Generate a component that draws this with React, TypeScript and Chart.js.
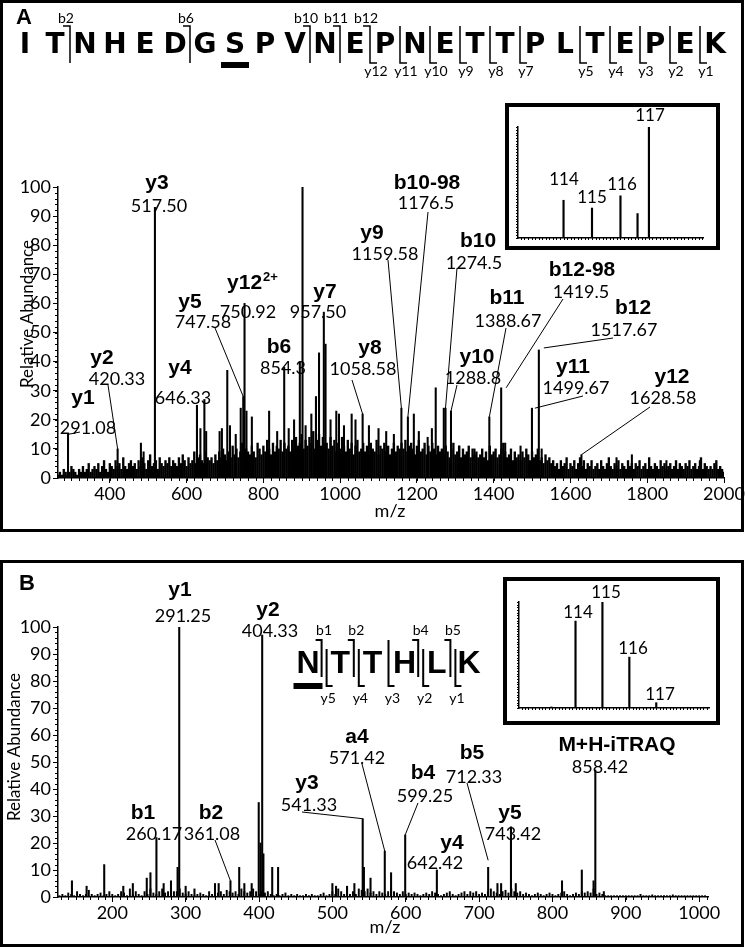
import { useEffect, useRef } from 'react';
import { Chart, registerables } from 'chart.js';

Chart.register(...registerables);

const PAGE_W = 745;
const PAGE_H = 947;

// ---------------- Panel A data ----------------
const xTicksA = [400, 600, 800, 1000, 1200, 1400, 1600, 1800, 2000];
const yTicks = [0, 10, 20, 30, 40, 50, 60, 70, 80, 90, 100];

const peaksA: [number, number][] = [
  [291.08, 15], [420.33, 10], [481, 12], [488, 9], [517.5, 93], [627, 25], [636, 17],
  [646.33, 27], [651, 16], [686, 16], [692, 17], [706, 37], [713, 18], [728, 15],
  [741, 24], [747.58, 28], [750.92, 60], [756, 23], [770, 21], [815, 23], [836, 16],
  [854.3, 38], [866, 17], [880, 20], [895, 40], [902, 100], [910, 18], [925, 22],
  [937, 28], [945, 43], [957.5, 57], [962, 46], [975, 20], [990, 23], [997, 22],
  [1010, 18], [1030, 22], [1040, 20], [1058.58, 22], [1075, 18], [1100, 17], [1120, 16],
  [1140, 15], [1159.58, 24], [1176.5, 21], [1192, 22], [1205, 16], [1228, 14], [1239, 17],
  [1249, 31], [1270, 24], [1274.5, 24], [1288.8, 23], [1310, 11], [1350, 10], [1388.67, 21],
  [1419.5, 31], [1430, 12], [1470, 11], [1499.67, 24], [1517.67, 44], [1525, 10],
  [1628.58, 8], [1720, 7], [1760, 8], [1850, 6], [1937, 6],
];

const noiseAStart = 265;
const noiseAStep = 5;
const noiseA = [
  1, 2, 1, 3, 2, 1, 2, 4, 3, 2, 1, 3, 2, 4, 2, 3, 5, 2, 3, 4,
  3, 5, 2, 4, 6, 3, 2, 5, 4, 3, 6, 4, 5, 3, 7, 4, 3, 5, 6, 4,
  5, 3, 6, 4, 7, 5, 3, 6, 8, 4, 5, 6, 3, 7, 5, 4, 6, 5, 7, 4,
  6, 5, 4, 7, 5, 8, 6, 4, 7, 5, 6, 9, 5, 7, 8, 6, 5, 9, 7, 6,
  7, 5, 8, 6, 9, 7, 10, 8, 6, 9, 7, 11, 8, 10, 7, 9, 12, 8, 10, 9,
  8, 11, 9, 7, 12, 10, 8, 11, 9, 13, 10, 8, 12, 9, 11, 10, 13, 9, 12, 10,
  11, 9, 13, 10, 14, 11, 12, 15, 10, 13, 11, 14, 12, 16, 10, 13, 15, 11, 14, 12,
  12, 10, 14, 11, 13, 9, 12, 10, 14, 11, 9, 13, 10, 12, 8, 11, 13, 9, 10, 12,
  9, 11, 8, 12, 10, 9, 13, 8, 11, 10, 12, 9, 11, 8, 10, 12, 9, 11, 10, 12,
  10, 13, 9, 11, 12, 10, 8, 11, 13, 9, 10, 12, 8, 11, 9, 12, 10, 8, 11, 9,
  10, 8, 11, 9, 7, 10, 12, 8, 9, 11, 7, 10, 8, 9, 11, 7, 10, 8, 9, 7,
  8, 10, 7, 9, 6, 11, 8, 9, 10, 7, 8, 10, 12, 9, 7, 8, 10, 6, 9, 7,
  8, 6, 9, 7, 10, 8, 6, 9, 7, 8, 10, 6, 7, 5, 8, 6, 7, 5, 6, 4,
  5, 3, 6, 4, 5, 7, 3, 5, 4, 6, 3, 5, 7, 4, 6, 3, 5, 4, 6, 3,
  4, 5, 3, 6, 4, 3, 5, 7, 4, 3, 5, 4, 6, 3, 5, 4, 3, 6, 4, 5,
  3, 5, 4, 6, 3, 4, 5, 3, 7, 4, 3, 5, 4, 3, 6, 4, 5, 3, 4, 5,
  3, 4, 6, 3, 5, 4, 3, 5, 4, 6, 3, 4, 5, 3, 4, 7, 3, 5, 4, 3,
  4, 3, 5, 6, 3, 4, 3, 2,
];

const ionNamesA = ['y1', 'y2', 'y3', 'y4', 'y5', 'y12^2+', 'y7', 'b6', 'y8', 'y9', 'b10-98', 'b10', 'y10', 'b11', 'b12-98', 'b12', 'y11', 'y12'];
const ionMzA = ['291.08', '420.33', '517.50', '646.33', '747.58', '750.92', '957.50', '854.3', '1058.58', '1159.58', '1176.5', '1274.5', '1288.8', '1388.67', '1419.5', '1517.67', '1499.67', '1628.58'];

const seqA = ['I', 'T', 'N', 'H', 'E', 'D', 'G', 'S', 'P', 'V', 'N', 'E', 'P', 'N', 'E', 'T', 'T', 'P', 'L', 'T', 'E', 'P', 'E', 'K'];
const bIonsA = [2, 6, 10, 11, 12];
const yIonsA = [12, 11, 10, 9, 8, 7, 5, 4, 3, 2, 1];

const insetMzA = [114, 115, 116, 116.6, 117];
const insetIntA = [34, 27, 38, 22, 100];
const insetLabelsA = ['114', '115', '116', '', '117'];

// ---------------- Panel B data ----------------
const xTicksB = [200, 300, 400, 500, 600, 700, 800, 900, 1000];

const peaksB: [number, number][] = [
  [145, 6], [165, 4], [189, 12], [215, 4], [228, 5], [247, 7], [252, 9], [260.17, 22],
  [270, 5], [280, 6], [289, 11], [291.25, 100], [300, 4], [312, 3], [340, 5], [345, 5],
  [361.08, 6], [373, 11], [380, 5], [390, 5], [399.6, 35], [402, 20], [404.33, 97],
  [406, 16], [418, 11], [426, 11], [500, 5], [505, 4], [520, 4], [530, 5], [541.33, 29],
  [543, 11], [552, 7], [571.42, 17], [580, 9], [599.25, 23], [642.42, 10], [712.33, 11],
  [725, 5], [730, 5], [743.42, 26], [750, 5], [813, 6], [840, 10], [856, 6], [858.42, 47],
  [870, 2],
];

const noiseBStart = 128;
const noiseBStep = 4;
const noiseB = [
  0.5, 1, 0.5, 1.5, 1, 0.5, 2, 1, 0.5, 1, 2.5, 1, 0.5, 1, 1.5, 0.5, 1, 2, 1, 0.5,
  1, 2, 1.5, 0.5, 3, 1, 2, 1, 0.5, 2, 1, 3, 1.5, 1, 2, 3, 1.5, 2, 3, 2,
  2, 3, 1.5, 1, 2, 1, 0.5, 1, 1.5, 1, 0.5, 2, 1, 3, 1.5, 2, 1, 2.5, 2, 1.5,
  2, 1, 3, 2, 1.5, 2, 3, 2, 1, 2, 1.5, 2, 1, 0.5, 1, 0.5, 1, 1.5, 0.5, 1,
  0.5, 1, 0.5, 0.5, 1, 0.5, 1, 0.5, 0.5, 1, 1.5, 0.5, 1, 2, 1, 3, 2, 1, 1.5, 1,
  2, 1, 3, 2.5, 2, 3, 1.5, 2, 1, 2, 1.5, 1, 2, 3, 2, 1.5, 1, 2, 1, 1.5,
  1, 1.5, 1, 0.5, 1, 1.5, 1, 2, 1.5, 1, 0.5, 1, 1.5, 2, 1, 0.5, 1, 1.5, 2, 1,
  2, 1.5, 2, 1, 1.5, 1, 2, 3, 2, 1.5, 1, 2, 2.5, 1.5, 3, 2, 1.5, 2, 1, 1.5,
  1, 0.5, 1, 1.5, 1, 0.5, 1, 1.5, 1, 0.5, 1, 1.5, 2, 1, 0.5, 1, 1.5, 1, 2, 1.5,
  2, 1.5, 3, 1, 1.5, 1, 0.5, 0.5, 0.5, 0.5, 0.5, 0.5, 0.5, 0.5, 0.5, 0.5, 0.5, 0.5, 1, 0.5,
  0.5, 0.5, 0.8, 0.5, 0.5, 0.5, 0.5, 0.5, 0.5, 0.8, 0.5, 0.5, 0.5, 0.5, 0.5, 0.5, 0.5, 0.5, 0.5, 0.5,
  0.5,
];

const ionNamesB = ['y1', 'y2', 'b1', 'b2', 'y3', 'a4', 'b4', 'b5', 'y4', 'y5', 'M+H-iTRAQ'];
const ionMzB = ['291.25', '404.33', '260.17', '361.08', '541.33', '571.42', '599.25', '712.33', '642.42', '743.42', '858.42'];

const seqB = ['N', 'T', 'T', 'H', 'L', 'K'];
const bIonsB = [1, 2, 4, 5];
const yIonsB = [5, 4, 3, 2, 1];

const insetMzB = [113.1, 114, 115, 116, 117];
const insetIntB = [1, 82, 100, 48, 5];
const insetLabelsB = ['', '114', '115', '116', '117'];

// ---------------- Layout (positions, not data) ----------------
type AnnLayout = { ion: [number, number]; val: [number, number]; from?: [number, number]; off?: [number, number] };

const annLayoutA: AnnLayout[] = [
  { ion: [83, 398], val: [88, 428], from: [80, 432] },
  { ion: [102, 358], val: [117, 379], from: [108, 385] },
  { ion: [157, 183], val: [159, 206] },
  { ion: [180, 368], val: [183, 398] },
  { ion: [190, 302], val: [203, 322], from: [215, 328] },
  { ion: [252, 283], val: [248, 312] },
  { ion: [325, 292], val: [318, 312] },
  { ion: [279, 347], val: [283, 368] },
  { ion: [370, 348], val: [363, 369], from: [352, 380] },
  { ion: [372, 233], val: [385, 254], from: [388, 260] },
  { ion: [427, 183], val: [426, 203], from: [428, 212] },
  { ion: [478, 241], val: [474, 263], from: [457, 268] },
  { ion: [477, 357], val: [473, 378], from: [457, 385] },
  { ion: [507, 298], val: [508, 321], from: [506, 328] },
  { ion: [582, 270], val: [581, 292], from: [563, 299], off: [5, 0] },
  { ion: [633, 308], val: [624, 330], from: [613, 338], off: [5, -2] },
  { ion: [573, 367], val: [576, 388], from: [583, 396], off: [3, 0] },
  { ion: [672, 377], val: [663, 398], from: [650, 407] },
];

const annLayoutB: AnnLayout[] = [
  { ion: [180, 590], val: [183, 616] },
  { ion: [268, 610], val: [270, 631] },
  { ion: [143, 813], val: [154, 834] },
  { ion: [211, 813], val: [212, 834], from: [215, 840] },
  { ion: [307, 783], val: [309, 805], from: [302, 812] },
  { ion: [357, 737], val: [357, 758], from: [362, 764] },
  { ion: [423, 773], val: [425, 796], from: [418, 803] },
  { ion: [472, 753], val: [474, 777], from: [467, 783], off: [0, -7] },
  { ion: [452, 843], val: [435, 863] },
  { ion: [510, 813], val: [513, 834] },
  { ion: [617, 745], val: [600, 767] },
];

const insetLabelPosA: ([number, number] | null)[] = [[564, 180], [592, 198], [622, 185], null, [650, 116]];
const insetLabelPosB: ([number, number] | null)[] = [null, [578, 613], [606, 593], [633, 649], [660, 695]];

const ION_FONT = 'bold 21px "Liberation Sans"';
const SUP_FONT = 'bold 13px "Liberation Sans"';
const VAL_FONT = '18px Lato';

type Area = { left: number; top: number; right: number; bottom: number };

interface SeqStyle {
  x0: number; dx: number; y: number; font: string; labelFont: string;
  bLabelY: number; yLabelY: number; top: number; bottom: number; hook: number; lw: number;
  split: number; splitShift: number; bLabelDx: number; yLabelDx: number;
  bar: { index: number; w: number; top: number; h: number };
}

const seqStyleA: SeqStyle = {
  x0: 25, dx: 30, y: 46, font: 'bold 28px "DejaVu Sans"', labelFont: '14px Lato',
  bLabelY: 18, yLabelY: 71, top: 26, bottom: 63, hook: 7, lw: 1.5,
  split: 0, splitShift: 0, bLabelDx: -4, yLabelDx: 6,
  bar: { index: 7, w: 28, top: 62, h: 6 },
};

const seqStyleB: SeqStyle = {
  x0: 308, dx: 32.2, y: 664, font: 'bold 32px "Liberation Sans"', labelFont: '14px Lato',
  bLabelY: 630, yLabelY: 698, top: 640, bottom: 686, hook: 6, lw: 2,
  split: 2.5, splitShift: 9, bLabelDx: 0, yLabelDx: 4,
  bar: { index: 0, w: 29, top: 683, h: 6 },
};

// ---------------- drawing helpers ----------------
function drawMinor(chart: any, xStep: number, yStep: number, xLen: number, yLen: number) {
  const { ctx } = chart;
  const xs = chart.scales.x, ys = chart.scales.y;
  ctx.save();
  ctx.strokeStyle = '#000';
  ctx.lineWidth = 1;
  ctx.beginPath();
  for (let v = Math.ceil(xs.min / xStep) * xStep; v <= xs.max + 1e-9; v += xStep) {
    const px = Math.round(xs.getPixelForValue(v)) + 0.5;
    ctx.moveTo(px, ys.bottom);
    ctx.lineTo(px, ys.bottom + xLen);
  }
  for (let v = 0; v <= ys.max + 1e-9; v += yStep) {
    const py = Math.round(ys.getPixelForValue(v)) + 0.5;
    ctx.moveTo(xs.left, py);
    ctx.lineTo(xs.left - yLen, py);
  }
  ctx.stroke();
  ctx.restore();
}

function drawAnnotations(chart: any, names: string[], texts: string[], layout: AnnLayout[], peaks: [number, number][]) {
  const ctx: CanvasRenderingContext2D = chart.ctx;
  const xs = chart.scales.x, ys = chart.scales.y;
  ctx.save();
  ctx.fillStyle = '#000';
  ctx.strokeStyle = '#000';
  ctx.textBaseline = 'middle';
  names.forEach((name, i) => {
    const L = layout[i];
    const [base, sup] = name.split('^');
    ctx.font = ION_FONT;
    if (sup) {
      const wb = ctx.measureText(base).width;
      ctx.font = SUP_FONT;
      const ws = ctx.measureText(sup).width;
      const left = L.ion[0] - (wb + ws) / 2;
      ctx.textAlign = 'left';
      ctx.font = ION_FONT;
      ctx.fillText(base, left, L.ion[1]);
      ctx.font = SUP_FONT;
      ctx.fillText(sup, left + wb + 1, L.ion[1] - 6);
    } else {
      ctx.textAlign = 'center';
      ctx.fillText(base, L.ion[0], L.ion[1]);
    }
    ctx.textAlign = 'center';
    ctx.font = VAL_FONT;
    ctx.fillText(texts[i], L.val[0], L.val[1]);
    if (L.from) {
      const mz = parseFloat(texts[i]);
      let best = peaks[0];
      for (const p of peaks) if (Math.abs(p[0] - mz) < Math.abs(best[0] - mz)) best = p;
      const tx = xs.getPixelForValue(best[0]) + (L.off ? L.off[0] : 0);
      const ty = ys.getPixelForValue(best[1]) + (L.off ? L.off[1] : 0);
      ctx.lineWidth = 1;
      ctx.beginPath();
      ctx.moveTo(L.from[0], L.from[1]);
      ctx.lineTo(tx, ty);
      ctx.stroke();
    }
  });
  ctx.restore();
}

function drawSequence(ctx: CanvasRenderingContext2D, seq: string[], bIons: number[], yIons: number[], s: SeqStyle) {
  ctx.save();
  ctx.fillStyle = '#000';
  ctx.strokeStyle = '#000';
  ctx.lineWidth = s.lw;
  ctx.textAlign = 'center';
  ctx.textBaseline = 'middle';
  ctx.font = s.font;
  seq.forEach((c, i) => ctx.fillText(c, s.x0 + i * s.dx, s.y));
  const n = seq.length;
  ctx.font = s.labelFont;
  for (let g = 1; g < n; g++) {
    const hasB = bIons.includes(g);
    const yk = n - g;
    const hasY = yIons.includes(yk);
    if (!hasB && !hasY) continue;
    const gx = s.x0 + (g - 0.5) * s.dx;
    const both = hasB && hasY && s.split > 0;
    const bx = both ? gx - s.split : gx;
    const yx = both ? gx + s.split : gx;
    ctx.beginPath();
    if (hasB) {
      ctx.moveTo(bx - s.hook, s.top);
      ctx.lineTo(bx, s.top);
      ctx.lineTo(bx, both ? s.bottom - s.splitShift : s.bottom);
    }
    if (hasY) {
      ctx.moveTo(yx, both ? s.top + s.splitShift : s.top);
      ctx.lineTo(yx, s.bottom);
      ctx.lineTo(yx + s.hook, s.bottom);
    }
    ctx.stroke();
    if (hasB) ctx.fillText('b' + g, gx + s.bLabelDx, s.bLabelY);
    if (hasY) ctx.fillText('y' + yk, gx + s.yLabelDx, s.yLabelY);
  }
  ctx.fillRect(s.x0 + s.bar.index * s.dx - s.bar.w / 2, s.bar.top, s.bar.w, s.bar.h);
  ctx.restore();
}

function drawTitles(ctx: CanvasRenderingContext2D, letter: string, lp: [number, number], xt: [number, number], yt: [number, number]) {
  ctx.save();
  ctx.fillStyle = '#000';
  ctx.textAlign = 'center';
  ctx.textBaseline = 'middle';
  ctx.font = 'bold 22px "Liberation Sans"';
  ctx.fillText(letter, lp[0], lp[1]);
  ctx.font = '18px Lato';
  ctx.fillText('m/z', xt[0], xt[1]);
  ctx.translate(yt[0], yt[1]);
  ctx.rotate(-Math.PI / 2);
  ctx.font = '17px Lato';
  ctx.fillText('Relative Abundance', 0, 0);
  ctx.restore();
}

function drawInsetLabels(chart: any, labels: string[], pos: ([number, number] | null)[]) {
  const ctx: CanvasRenderingContext2D = chart.ctx;
  ctx.save();
  ctx.fillStyle = '#000';
  ctx.textAlign = 'center';
  ctx.textBaseline = 'middle';
  ctx.font = '17px Lato';
  labels.forEach((l, i) => {
    const p = pos[i];
    if (l && p) ctx.fillText(l, p[0], p[1]);
  });
  ctx.restore();
}

interface SpecOpts {
  area: Area; xmin: number; xmax: number; ymax: number;
  xTicks: number[]; yTicks: number[];
  noise: { x: number; y: number }[];
  peaks: { x: number; y: number }[];
  showLabels: boolean; noiseW: number; barW: number; borderW: number;
  draw: (chart: any) => void;
}

function makeChart(canvas: HTMLCanvasElement, o: SpecOpts) {
  const yW = o.showLabels ? 50 : 1;
  const xH = o.showLabels ? 26 : 1;
  const tickFont = { family: 'Lato', size: 18 };
  return new Chart(canvas, {
    type: 'bar',
    data: {
      datasets: [
        { data: o.noise as any, backgroundColor: '#000', borderWidth: 0, barThickness: o.noiseW, stack: 'spec' } as any,
        { data: o.peaks as any, backgroundColor: '#000', borderWidth: 0, barThickness: o.barW, stack: 'spec' } as any,
      ],
    },
    options: {
      responsive: false,
      animation: false,
      devicePixelRatio: 1,
      events: [],
      layout: {
        padding: {
          left: o.area.left - yW,
          top: o.area.top,
          right: PAGE_W - o.area.right,
          bottom: PAGE_H - o.area.bottom - xH,
        },
      },
      plugins: { legend: { display: false }, tooltip: { enabled: false }, title: { display: false } },
      scales: {
        x: {
          type: 'linear', min: o.xmin, max: o.xmax, offset: false,
          afterBuildTicks: (s: any) => { s.ticks = o.xTicks.map((v) => ({ value: v })); },
          afterFit: (s: any) => { s.height = xH; },
          grid: { display: o.showLabels, offset: false, drawOnChartArea: false, drawTicks: true, tickLength: 5, color: '#000', lineWidth: 1 },
          border: { display: true, color: '#000', width: o.borderW },
          ticks: { display: o.showLabels, color: '#000', font: tickFont, padding: 0, maxRotation: 0, minRotation: 0, autoSkip: false, callback: (v: any) => String(v) },
        },
        y: {
          type: 'linear', min: 0, max: o.ymax, stacked: false,
          afterBuildTicks: (s: any) => { s.ticks = o.yTicks.map((v) => ({ value: v })); },
          afterFit: (s: any) => { s.width = yW; },
          grid: { display: o.showLabels, offset: false, drawOnChartArea: false, drawTicks: true, tickLength: 5, color: '#000', lineWidth: 1 },
          border: { display: true, color: '#000', width: o.borderW },
          ticks: { display: o.showLabels, color: '#000', font: tickFont, padding: 2, autoSkip: false, callback: (v: any) => String(v) },
        },
      },
    } as any,
    plugins: [{ id: 'extras', afterDraw: (c: any) => o.draw(c) }],
  });
}

const canvasStyle: React.CSSProperties = { position: 'absolute', left: 0, top: 0, width: PAGE_W, height: PAGE_H };

export default function App() {
  const refA = useRef<HTMLCanvasElement>(null);
  const refB = useRef<HTMLCanvasElement>(null);
  const refIA = useRef<HTMLCanvasElement>(null);
  const refIB = useRef<HTMLCanvasElement>(null);

  useEffect(() => {
    const charts: Chart[] = [];
    const noisePtsA = noiseA.map((v, i) => ({ x: noiseAStart + i * noiseAStep, y: v }));
    const peakPtsA = peaksA.map(([x, y]) => ({ x, y }));
    const noisePtsB = noiseB.map((v, i) => ({ x: noiseBStart + i * noiseBStep, y: v }));
    const peakPtsB = peaksB.map(([x, y]) => ({ x, y }));
    if (refA.current) {
      charts.push(makeChart(refA.current, {
        area: { left: 58, top: 187, right: 724, bottom: 478 },
        xmin: 265, xmax: 2000, ymax: 100, xTicks: xTicksA, yTicks,
        noise: noisePtsA, peaks: peakPtsA, showLabels: true, noiseW: 1.7, barW: 1.4, borderW: 1.5,
        draw: (c) => {
          drawMinor(c, 20, 2, 3, 3);
          drawAnnotations(c, ionNamesA, ionMzA, annLayoutA, peaksA);
          drawSequence(c.ctx, seqA, bIonsA, yIonsA, seqStyleA);
          drawTitles(c.ctx, 'A', [24, 18], [390, 511], [28, 314]);
        },
      }));
    }
    if (refB.current) {
      charts.push(makeChart(refB.current, {
        area: { left: 58, top: 627, right: 708, bottom: 897 },
        xmin: 126, xmax: 1012, ymax: 100, xTicks: xTicksB, yTicks,
        noise: noisePtsB, peaks: peakPtsB, showLabels: true, noiseW: 1.3, barW: 1.4, borderW: 1.5,
        draw: (c) => {
          drawMinor(c, 10, 2, 3, 3);
          drawAnnotations(c, ionNamesB, ionMzB, annLayoutB, peaksB);
          drawSequence(c.ctx, seqB, bIonsB, yIonsB, seqStyleB);
          drawTitles(c.ctx, 'B', [27, 584], [385, 927], [15, 747]);
        },
      }));
    }
    if (refIA.current) {
      charts.push(makeChart(refIA.current, {
        area: { left: 518, top: 127, right: 703, bottom: 238 },
        xmin: 112.4, xmax: 118.9, ymax: 100, xTicks: [], yTicks: [],
        noise: [], peaks: insetMzA.map((x, i) => ({ x, y: insetIntA[i] })), showLabels: false, noiseW: 1, barW: 1.5, borderW: 1.5,
        draw: (c) => {
          drawMinor(c, 0.125, 2.5, 2, 2);
          drawInsetLabels(c, insetLabelsA, insetLabelPosA);
        },
      }));
    }
    if (refIB.current) {
      charts.push(makeChart(refIB.current, {
        area: { left: 519, top: 602, right: 709, bottom: 708 },
        xmin: 111.9, xmax: 118.96, ymax: 100, xTicks: [], yTicks: [],
        noise: [], peaks: insetMzB.map((x, i) => ({ x, y: insetIntB[i] })), showLabels: false, noiseW: 1, barW: 1.5, borderW: 1.5,
        draw: (c) => {
          drawMinor(c, 0.125, 2.5, 2, 2);
          drawInsetLabels(c, insetLabelsB, insetLabelPosB);
        },
      }));
    }
    return () => charts.forEach((c) => c.destroy());
  }, []);

  const box = (left: number, top: number, width: number, height: number, bw: number): React.CSSProperties => ({
    position: 'absolute', left, top, width, height, border: `${bw}px solid #000`, boxSizing: 'border-box', pointerEvents: 'none',
  });

  return (
    <div style={{ position: 'absolute', left: 0, top: 0, width: PAGE_W, height: PAGE_H, background: '#fff', overflow: 'hidden' }}>
      <canvas ref={refA} width={PAGE_W} height={PAGE_H} style={canvasStyle} />
      <canvas ref={refB} width={PAGE_W} height={PAGE_H} style={canvasStyle} />
      <canvas ref={refIA} width={PAGE_W} height={PAGE_H} style={canvasStyle} />
      <canvas ref={refIB} width={PAGE_W} height={PAGE_H} style={canvasStyle} />
      <div style={box(0, 0, 744, 532, 3)} />
      <div style={box(0, 560, 744, 387, 3)} />
      <div style={box(505, 103, 215, 147, 4)} />
      <div style={box(503, 577, 217, 148, 4)} />
    </div>
  );
}
